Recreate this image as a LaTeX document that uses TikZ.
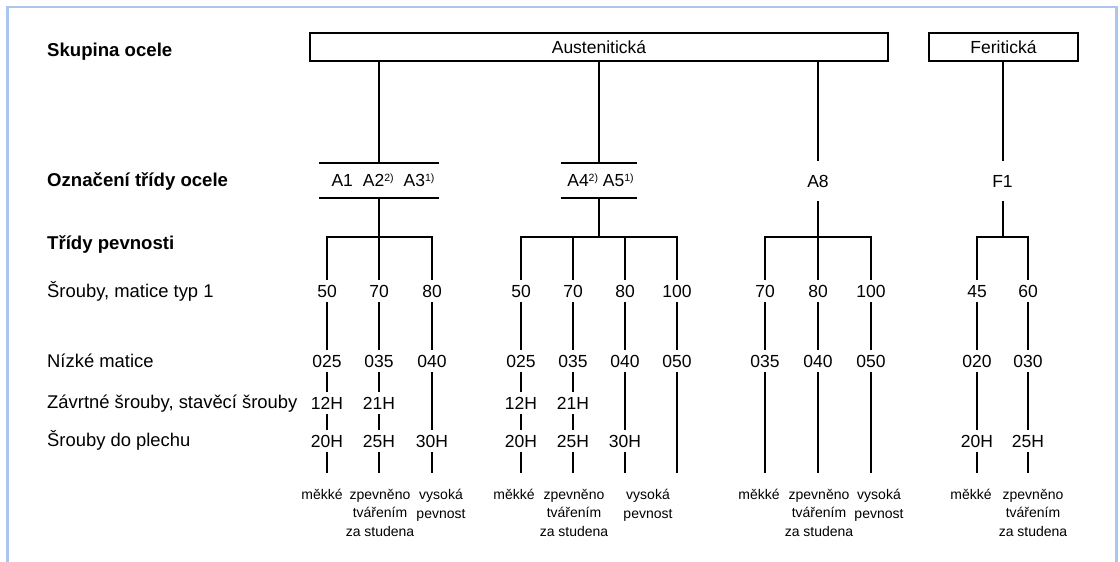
\documentclass[tikz,border=0pt]{standalone}
\usepackage{fontspec}
\setmainfont{Liberation Sans}
\newcommand\supnote[1]{\raisebox{5.5pt}{\fontsize{10.5}{10.5}\selectfont #1}}
\definecolor{framecol}{RGB}{170,198,236}
\begin{document}
\begin{tikzpicture}[x=1pt,y=-1pt,
  tree/.style={line width=2pt, draw=black},
  framestyle/.style={line width=2.5pt, draw=framecol},
  head/.style={font=\bfseries\fontsize{18.6}{22}\selectfont, inner sep=0pt, anchor=base west},
  rowlab/.style={font=\fontsize{18.4}{21}\selectfont, inner sep=0pt, anchor=base west},
  num/.style={font=\fontsize{17.5}{21}\selectfont, text height=12pt, text depth=0pt, inner xsep=0pt, inner ysep=5pt, anchor=base},
  cls/.style={font=\fontsize{17.5}{21}\selectfont, text height=12pt, text depth=0pt, inner xsep=0pt, inner ysep=14pt},
  clsgroup/.style={font=\fontsize{17.5}{21}\selectfont, text height=12pt, text depth=0pt, inner sep=0pt, minimum height=35pt},
  grp/.style={draw, line width=2pt, minimum height=28pt, inner sep=0pt, font=\fontsize{17.5}{21}\selectfont},
  note/.style={font=\fontsize{14}{18.5}\selectfont, align=center, anchor=north, inner sep=0pt},
]
\useasboundingbox (0,0) rectangle (1120,562);
% frame
\draw[framestyle] (7.5,570) -- (7.5,7) -- (1116.5,7) -- (1116.5,570);

% row labels
\node[head] (h1) at (47,56) {Skupina ocele};
\node[head] (h2) at (47,186) {Označení třídy ocele};
\node[head] (h3) at (47,249) {Třídy pevnosti};
\node[rowlab] (r1) at (47,297) {Šrouby, matice typ 1};
\node[rowlab] (r2) at (47,367) {Nízké matice};
\node[rowlab] (r3) at (47,408) {Závrtné šrouby, stavěcí šrouby};
\node[rowlab] (r4) at (47,446) {Šrouby do plechu};

% steel groups
\node[grp, minimum width=578pt] (aus) at (599,47) {Austenitická};
\node[grp, minimum width=149pt] (fer) at (1003.5,47) {Feritická};

% steel classes
\node[clsgroup, minimum width=119pt] (g1) at (379,180.5) {\hspace{8pt}A1\hspace{10pt}A2\supnote{2)}\hspace{10pt}A3\supnote{1)}};
\draw[tree] (g1.north west) -- (g1.north east);
\draw[tree] (g1.south west) -- (g1.south east);
\node[clsgroup, minimum width=76pt] (g2) at (599,180.5) {\hspace{3pt}A4\supnote{2)} A5\supnote{1)}};
\draw[tree] (g2.north west) -- (g2.north east);
\draw[tree] (g2.south west) -- (g2.south east);
\node[cls] (a8) at (818,181) {A8};
\node[cls] (f1) at (1002.5,181) {F1};

\draw[tree] (aus.south -| g1.north) -- (g1.north);
\draw[tree] (aus.south -| g2.north) -- (g2.north);
\draw[tree] (aus.south -| a8.north) -- (a8.north);
\draw[tree] (fer.south -| f1.north) -- (f1.north);

% branch points
\coordinate (b1) at (379,237);
\coordinate (b2) at (599,237);
\coordinate (b3) at (818,237);
\coordinate (b4) at (1002.5,237);

% ---- group 1
\node[num] (p11) at (327,297) {50};
\node[num] (p12) at (379,297) {70};
\node[num] (p13) at (432,297) {80};
\node[num] (m11) at (327,367) {025};
\node[num] (m12) at (379,367) {035};
\node[num] (m13) at (432,367) {040};
\node[num] (z11) at (327,409) {12H};
\node[num] (z12) at (379,409) {21H};
\node[num] (s11) at (327,447) {20H};
\node[num] (s12) at (379,447) {25H};
\node[num] (s13) at (432,447) {30H};
\coordinate (e11) at (327,473);
\coordinate (e12) at (379,473);
\coordinate (e13) at (432,473);
\draw[tree] (g1) -- (b1);
\draw[tree] (p11) |- (b1) -| (p13);
\draw[tree] (b1) -- (p12);
\draw[tree] (p11) -- (m11) -- (z11) -- (s11) -- (e11);
\draw[tree] (p12) -- (m12) -- (z12) -- (s12) -- (e12);
\draw[tree] (p13) -- (m13) -- (s13) -- (e13);

% ---- group 2
\node[num] (p21) at (521,297) {50};
\node[num] (p22) at (573,297) {70};
\node[num] (p23) at (625,297) {80};
\node[num] (p24) at (677,297) {100};
\node[num] (m21) at (521,367) {025};
\node[num] (m22) at (573,367) {035};
\node[num] (m23) at (625,367) {040};
\node[num] (m24) at (677,367) {050};
\node[num] (z21) at (521,409) {12H};
\node[num] (z22) at (573,409) {21H};
\node[num] (s21) at (521,447) {20H};
\node[num] (s22) at (573,447) {25H};
\node[num] (s23) at (625,447) {30H};
\coordinate (e21) at (521,473);
\coordinate (e22) at (573,473);
\coordinate (e23) at (625,473);
\coordinate (e24) at (677,473);
\draw[tree] (g2) -- (b2);
\draw[tree] (p21) |- (b2) -| (p24);
\draw[tree] (p22) -- (p22 |- b2);
\draw[tree] (p23) -- (p23 |- b2);
\draw[tree] (p21) -- (m21) -- (z21) -- (s21) -- (e21);
\draw[tree] (p22) -- (m22) -- (z22) -- (s22) -- (e22);
\draw[tree] (p23) -- (m23) -- (s23) -- (e23);
\draw[tree] (p24) -- (m24) -- (e24);

% ---- A8
\node[num] (p31) at (765,297) {70};
\node[num] (p32) at (818,297) {80};
\node[num] (p33) at (871,297) {100};
\node[num] (m31) at (765,367) {035};
\node[num] (m32) at (818,367) {040};
\node[num] (m33) at (871,367) {050};
\coordinate (e31) at (765,473);
\coordinate (e32) at (818,473);
\coordinate (e33) at (871,473);
\draw[tree] (a8) -- (b3);
\draw[tree] (p31) |- (b3) -| (p33);
\draw[tree] (b3) -- (p32);
\draw[tree] (p31) -- (m31) -- (e31);
\draw[tree] (p32) -- (m32) -- (e32);
\draw[tree] (p33) -- (m33) -- (e33);

% ---- F1
\node[num] (p41) at (977,297) {45};
\node[num] (p42) at (1028,297) {60};
\node[num] (m41) at (977,367) {020};
\node[num] (m42) at (1028,367) {030};
\node[num] (s41) at (977,447) {20H};
\node[num] (s42) at (1028,447) {25H};
\coordinate (e41) at (977,473);
\coordinate (e42) at (1028,473);
\draw[tree] (f1) -- (b4);
\draw[tree] (p41) |- (b4) -| (p42);
\draw[tree] (p41) -- (m41) -- (s41) -- (e41);
\draw[tree] (p42) -- (m42) -- (s42) -- (e42);

% ---- bottom notes
\node[note] (n11) at (322,489) {měkké};
\node[note] (n12) at (380,489) {zpevněno\\tvářením\\za studena};
\node[note] (n13) at (441,489) {vysoká\\pevnost};
\node[note] (n21) at (514,489) {měkké};
\node[note] (n22) at (574,489) {zpevněno\\tvářením\\za studena};
\node[note] (n23) at (648,489) {vysoká\\pevnost};
\node[note] (n31) at (759,489) {měkké};
\node[note] (n32) at (819,489) {zpevněno\\tvářením\\za studena};
\node[note] (n33) at (879,489) {vysoká\\pevnost};
\node[note] (n41) at (971,489) {měkké};
\node[note] (n42) at (1033,489) {zpevněno\\tvářením\\za studena};
\end{tikzpicture}
\end{document}
